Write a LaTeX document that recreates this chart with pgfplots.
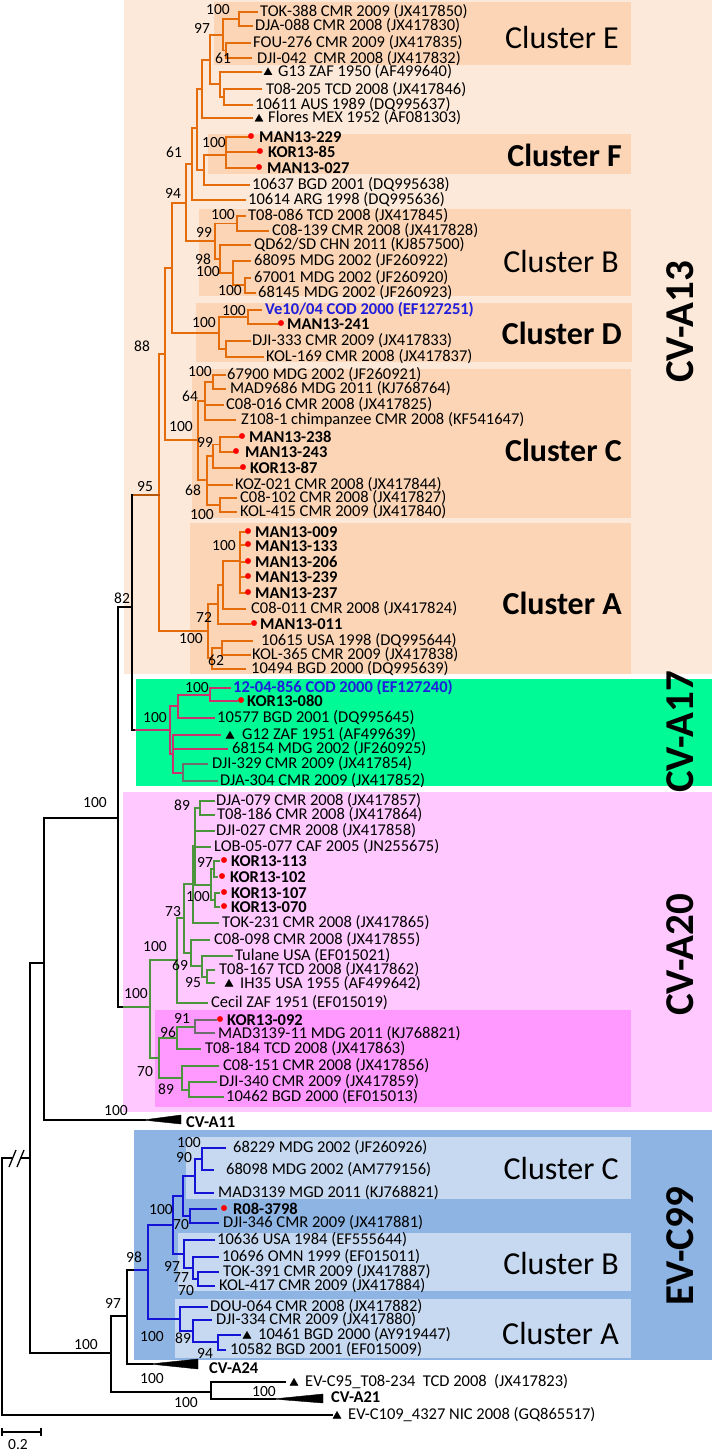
\documentclass[border=0pt]{standalone}
\usepackage{pgfplots}
\pgfplotsset{compat=1.18}
\usepackage{fontspec}
\setmainfont{Carlito}
\definecolor{orL}{RGB}{228,108,10}
\definecolor{mgL}{RGB}{200,50,110}
\definecolor{gyL}{RGB}{110,110,110}
\definecolor{grL}{RGB}{75,150,60}
\definecolor{blL}{RGB}{20,20,215}
\definecolor{blT}{RGB}{30,30,220}
\definecolor{bgA13}{RGB}{253,233,217}
\definecolor{bxA13}{RGB}{251,213,181}
\definecolor{bgA17}{RGB}{0,250,150}
\definecolor{bgA20}{RGB}{255,200,255}
\definecolor{bxA20}{RGB}{255,153,255}
\definecolor{bgC99}{RGB}{141,180,226}
\definecolor{bxC99}{RGB}{198,217,241}
\tikzset{
 or/.style={color=orL,line width=1.7pt,line cap=rect},
 mg/.style={color=mgL,line width=1.7pt,line cap=rect},
 gy/.style={color=gyL,line width=1.7pt,line cap=rect},
 gr/.style={color=grL,line width=1.7pt,line cap=rect},
 bl/.style={color=blL,line width=1.7pt,line cap=rect},
 bk/.style={color=black,line width=1.7pt,line cap=rect},
}
\newcommand{\HL}[4]{\addplot[#1] coordinates {(#3,#2) (#4,#2)};}
\newcommand{\VL}[4]{\addplot[#1] coordinates {(#2,#3) (#2,#4)};}
\newcommand{\BOX}[5]{\addplot[fill=#1,draw=none] coordinates {(#2,#3) (#4,#3) (#4,#5) (#2,#5)} -- cycle;}
\newcommand{\lfont}{\fontsize{16.5}{18}\selectfont}
\newcommand{\bfont}{\fontsize{15.5}{17}\selectfont}
\newcommand{\LF}[3]{\node[anchor=west,inner sep=0pt,font=\lfont] at (axis cs:#1,#2) {#3};}
\newcommand{\LB}[3]{\node[anchor=west,inner sep=0pt,font=\lfont\bfseries] at (axis cs:#1,#2) {#3};}
\newcommand{\BS}[3]{\node[inner sep=0pt,font=\bfont] at (axis cs:#1,#2) {#3};}
\newcommand{\CL}[2]{\node[anchor=east,inner sep=0pt,font=\fontsize{32}{34}\selectfont] at (axis cs:619,#1) {#2};}
\newcommand{\CLB}[2]{\node[anchor=east,inner sep=0pt,font=\fontsize{32}{34}\selectfont\bfseries] at (axis cs:622,#1) {#2};}
\newcommand{\GR}[2]{\node[rotate=90,inner sep=0pt,font=\fontsize{41}{43}\selectfont\bfseries] at (axis cs:680,#1) {#2};}
\begin{document}
\begin{tikzpicture}
\begin{axis}[width=712pt,height=1455pt,scale only axis,xmin=0,xmax=712,ymin=0,ymax=1455,
 y dir=reverse,hide axis,clip=false]
% full-frame (invisible) so the picture spans the whole axis
\addplot[draw=none,fill=white] coordinates {(0,0) (712,0) (712,1455) (0,1455)} -- cycle;
% backgrounds
\BOX{bgA13}{124}{0}{712}{674}
\BOX{bxA13}{214}{2}{631}{65}
\BOX{bxA13}{208}{134}{631}{174}
\BOX{bxA13}{199}{209}{631}{296}
\BOX{bxA13}{196}{303}{632}{362}
\BOX{bxA13}{192}{369}{631}{518}
\BOX{bxA13}{190}{523}{631}{674}
\BOX{bgA17}{136}{679}{712}{786}
\BOX{bgA20}{123}{792}{712}{1112}
\BOX{bxA20}{155}{1010}{631}{1107}
\BOX{bgC99}{134}{1130}{712}{1360}
\BOX{bxC99}{186}{1137}{631}{1199}
\BOX{bxC99}{178}{1233}{631}{1291}
\BOX{bxC99}{175}{1299}{631}{1358}
% ---------- CV-A13 (orange)
\VL{or}{239}{11.7}{26} \HL{or}{11.7}{239}{257} \HL{or}{26}{239}{252}
\VL{or}{226}{42.7}{58.3} \HL{or}{42.7}{226}{250} \HL{or}{58.3}{226}{251}
\VL{or}{223}{19}{50.5} \HL{or}{19}{223}{239} \HL{or}{50.5}{223}{226}
\VL{or}{224}{89.3}{105} \HL{or}{89.3}{224}{261} \HL{or}{105}{224}{252}
\VL{or}{220}{71.7}{97} \HL{or}{71.7}{220}{261} \HL{or}{97}{220}{224}
\VL{or}{210}{35}{84} \HL{or}{35}{210}{223} \HL{or}{84}{210}{220}
\VL{or}{202}{60}{118} \HL{or}{60}{202}{210} \HL{or}{118}{202}{252}
\VL{or}{226}{137}{168} \HL{or}{137}{226}{248} \HL{or}{152}{226}{257} \HL{or}{168}{226}{255}
\VL{or}{204}{155}{185} \HL{or}{155}{204}{226} \HL{or}{185}{204}{249}
\VL{or}{197}{89}{170} \HL{or}{89}{197}{202} \HL{or}{170}{197}{204}
\VL{or}{192}{128}{200} \HL{or}{128}{192}{197} \HL{or}{200}{192}{245}
\VL{or}{237}{216}{231} \HL{or}{216}{237}{245} \HL{or}{231}{237}{268}
\VL{or}{245}{278}{293} \HL{or}{278}{245}{250} \HL{or}{293}{245}{255}
\VL{or}{233}{261}{285} \HL{or}{261}{233}{250} \HL{or}{285}{233}{245}
\VL{or}{220}{245}{273} \HL{or}{245}{220}{250} \HL{or}{273}{220}{233}
\VL{or}{215}{223.5}{259} \HL{or}{223.5}{215}{237} \HL{or}{259}{215}{220}
\VL{or}{186}{164}{241} \HL{or}{164}{186}{192} \HL{or}{241}{186}{215}
\VL{or}{248}{310}{324} \HL{or}{310}{248}{261} \HL{or}{324}{248}{278}
\VL{or}{226}{341}{357} \HL{or}{341}{226}{250} \HL{or}{357}{226}{263}
\VL{or}{219}{317}{349} \HL{or}{317}{219}{248} \HL{or}{349}{219}{226}
\VL{or}{172}{203}{333} \HL{or}{203}{172}{186} \HL{or}{333}{172}{219}
\VL{or}{213}{375}{389} \HL{or}{375}{213}{225} \HL{or}{389}{213}{225}
\VL{or}{205}{382}{420} \HL{or}{382}{205}{213} \HL{or}{405}{205}{223} \HL{or}{420}{205}{235}
\VL{or}{220}{437}{452} \HL{or}{437}{220}{239} \HL{or}{452}{220}{234}
\VL{or}{213}{444.5}{468} \HL{or}{444.5}{213}{220} \HL{or}{468}{213}{240}
\VL{or}{220}{498}{512} \HL{or}{498}{220}{236} \HL{or}{512}{220}{236}
\VL{or}{207}{456}{505} \HL{or}{456}{207}{213} \HL{or}{485}{207}{232} \HL{or}{505}{207}{220}
\VL{or}{198}{401}{480} \HL{or}{401}{198}{205} \HL{or}{480}{198}{207}
\VL{or}{165}{268}{440} \HL{or}{268}{165}{172} \HL{or}{440}{165}{198}
\VL{or}{240}{532}{593} \HL{or}{532}{240}{245} \HL{or}{545}{240}{245} \HL{or}{562}{240}{245} \HL{or}{577}{240}{245} \HL{or}{593}{240}{245}
\VL{or}{223}{561}{609} \HL{or}{561}{223}{240} \HL{or}{609}{223}{245}
\VL{or}{218}{585}{624} \HL{or}{585}{218}{223} \HL{or}{624}{218}{250}
\VL{or}{222}{641}{655} \HL{or}{641}{222}{252} \HL{or}{655}{222}{250}
\VL{or}{212}{648}{669} \HL{or}{648}{212}{222} \HL{or}{669}{212}{245}
\VL{or}{208}{604}{658} \HL{or}{604}{208}{218} \HL{or}{658}{208}{212}
\VL{or}{159}{354}{631} \HL{or}{354}{159}{165} \HL{or}{631}{159}{208}
\addplot[color=orL!80!black,line width=2.4pt,line cap=rect] coordinates {(132,495) (159,495)};
% ---------- CV-A17
\HL{bk}{730}{132}{136}
\HL{mg}{730}{136}{170}
\VL{mg}{170}{706}{754} \HL{mg}{706}{170}{178} \HL{mg}{754}{170}{173}
\VL{mg}{178}{695}{718} \HL{mg}{695}{178}{210} \HL{mg}{718}{178}{214}
\VL{mg}{210}{688}{701} \HL{mg}{688}{210}{230} \HL{mg}{701}{210}{237}
\VL{mg}{173}{735}{773} \HL{mg}{735}{173}{220} \HL{mg}{749}{173}{227} \HL{mg}{773}{173}{183}
\VL{gy}{183}{764}{781} \HL{gy}{764}{183}{207} \HL{gy}{781}{183}{217}
% ---------- backbone (black)
\VL{bk}{132}{495}{730} \HL{bk}{607}{118}{132}
\VL{bk}{118}{607}{1007} \HL{bk}{818}{44}{118}
\HL{bk}{1007}{118}{124}
\VL{bk}{44}{818}{1120} \HL{bk}{1120}{44}{145}
\HL{bk}{963}{30}{44}
\VL{bk}{30}{963}{1353} \HL{bk}{1353}{30}{111}
\VL{bk}{111}{1316}{1392} \HL{bk}{1316}{111}{127}
\VL{bk}{127}{1270}{1364} \HL{bk}{1270}{127}{135} \HL{bk}{1364}{127}{152}
\HL{bk}{1392}{111}{211}
\VL{bk}{211}{1382}{1399} \HL{bk}{1382}{211}{285} \HL{bk}{1399}{211}{275}
\VL{bk}{2}{1158}{1415} \HL{bk}{1158}{2}{11} \HL{bk}{1158}{21}{30} \HL{bk}{1415}{2}{332}
\addplot[black,line width=1.3pt] coordinates {(9,1167) (16,1150)};
\addplot[black,line width=1.3pt] coordinates {(17,1167) (24,1150)};
% collapsed clades
\addplot[fill=black,draw=black,line width=0.4pt] coordinates {(143,1120) (181,1115) (181,1124)} -- cycle;
\addplot[fill=black,draw=black,line width=0.4pt] coordinates {(150,1364) (198,1359) (198,1369)} -- cycle;
\addplot[fill=black,draw=black,line width=0.4pt] coordinates {(273,1399) (323,1394) (323,1403)} -- cycle;
% scale bar
\addplot[black,line width=1.2pt] coordinates {(2,1432) (41,1432)};
\addplot[black,line width=1.2pt] coordinates {(2,1428) (2,1436)};
\addplot[black,line width=1.2pt] coordinates {(41,1428) (41,1436)};
% ---------- CV-A20 (green)
\HL{gr}{1007}{124}{150}
\VL{gr}{150}{960}{1058} \HL{gr}{960}{150}{177} \HL{gr}{1058}{150}{159}
\VL{gr}{177}{918}{1003} \HL{gr}{918}{177}{184} \HL{gr}{1003}{177}{207}
\VL{gr}{184}{884}{953} \HL{gr}{884}{184}{193} \HL{gr}{953}{184}{191}
\VL{gr}{193}{846}{923} \HL{gr}{846}{193}{195} \HL{gr}{923}{193}{218}
\VL{gr}{195}{808}{885} \HL{gr}{808}{195}{200} \HL{gr}{831}{195}{214} \HL{gr}{847}{195}{210} \HL{gr}{885}{195}{211}
\VL{gr}{200}{801}{815} \HL{gr}{801}{200}{214} \HL{gr}{815}{200}{214}
\VL{gr}{211}{869}{900} \HL{gr}{869}{211}{214} \HL{gr}{900}{211}{215}
\VL{gr}{214}{861}{877} \HL{gr}{861}{214}{219} \HL{gr}{877}{214}{217}
\VL{gr}{215}{893}{907} \HL{gr}{893}{215}{219} \HL{gr}{907}{215}{219}
\VL{gr}{191}{940}{966} \HL{gr}{940}{191}{209} \HL{gr}{966}{191}{202}
\VL{gr}{202}{956}{977} \HL{gr}{956}{202}{232} \HL{gr}{977}{202}{207}
\VL{gr}{207}{970}{983} \HL{gr}{970}{207}{214} \HL{gr}{983}{207}{214}
\VL{gr}{159}{1038}{1078} \HL{gr}{1038}{159}{177} \HL{gr}{1078}{159}{182}
\VL{gr}{177}{1027}{1049} \HL{gr}{1027}{177}{195} \HL{gr}{1049}{177}{200}
\VL{gy}{195}{1020}{1033} \HL{gy}{1020}{195}{216} \HL{gy}{1033}{195}{214}
\VL{gr}{182}{1066}{1090} \HL{gr}{1066}{182}{218} \HL{gr}{1090}{182}{189}
\VL{gr}{189}{1082}{1097} \HL{gr}{1082}{189}{216} \HL{gr}{1097}{189}{223}
% ---------- EV-C99 (blue)
\HL{bl}{1270}{135}{148}
\VL{bl}{148}{1225}{1319} \HL{bl}{1225}{148}{173} \HL{bl}{1319}{148}{180}
\VL{bl}{173}{1196}{1254} \HL{bl}{1196}{173}{183} \HL{bl}{1254}{173}{184}
\VL{bl}{183}{1176}{1216} \HL{bl}{1176}{183}{195} \HL{bl}{1216}{183}{190}
\VL{bl}{195}{1159}{1193} \HL{bl}{1159}{195}{202} \HL{bl}{1193}{195}{213}
\VL{bl}{202}{1148}{1170} \HL{bl}{1148}{202}{225} \HL{bl}{1170}{202}{213}
\VL{bl}{190}{1209}{1223} \HL{bl}{1209}{190}{216} \HL{bl}{1223}{190}{218}
\VL{bl}{184}{1240}{1268} \HL{bl}{1240}{184}{214} \HL{bl}{1268}{184}{193}
\VL{bl}{193}{1257}{1279} \HL{bl}{1257}{193}{218} \HL{bl}{1279}{193}{198}
\VL{bl}{198}{1272}{1286} \HL{bl}{1272}{198}{218} \HL{bl}{1286}{198}{214}
\VL{bl}{180}{1307}{1331} \HL{bl}{1307}{180}{207} \HL{bl}{1331}{180}{193}
\VL{bl}{193}{1320}{1342} \HL{bl}{1320}{193}{211} \HL{bl}{1342}{193}{218}
\VL{bl}{218}{1335}{1350} \HL{bl}{1335}{218}{240} \HL{bl}{1350}{218}{225}
% ---------- markers
\addplot[only marks,mark=*,mark size=2.7pt,color=red] coordinates {
(251,136) (260,151) (259,167) (281,323) (242,436) (236,451) (243,467)
(248,531) (248,544) (248,561) (248,576) (248,592) (254,623)
(241,700) (224,860) (222,876) (224,892) (224,906) (220,1019) (224,1208)};
\addplot[only marks,mark=triangle*,mark size=4.6pt,color=black] coordinates {
(268,72.5) (259,119) (230,736) (229,984) (247,1336) (294,1383) (337,1416)};
% ---------- leaf labels
\LF{260}{11.7}{TOK-388 CMR 2009 (JX417850)}
\LF{255}{26}{DJA-088 CMR 2008 (JX417830)}
\LF{253}{42.7}{FOU-276 CMR 2009 (JX417835)}
\LF{257}{58.3}{DJI-042\ \ CMR 2008 (JX417832)}
\LF{278}{71.7}{G13 ZAF 1950 (AF499640)}
\LF{266}{89.3}{T08-205 TCD 2008 (JX417846)}
\LF{255}{105}{10611 AUS 1989 (DQ995637)}
\LF{268}{118}{Flores MEX 1952 (AF081303)}
\LB{259}{137}{MAN13-229}
\LB{268}{152}{KOR13-85}
\LB{267}{168}{MAN13-027}
\LF{252}{185}{10637 BGD 2001 (DQ995638)}
\LF{248}{200}{10614 ARG 1998 (DQ995636)}
\LF{248}{216}{T08-086 TCD 2008 (JX417845)}
\LF{272}{231}{C08-139 CMR 2008 (JX417828)}
\LF{254}{245}{QD62/SD CHN 2011 (KJ857500)}
\LF{254}{261}{68095 MDG 2002 (JF260922)}
\LF{254}{278}{67001 MDG 2002 (JF260920)}
\LF{258}{293}{68145 MDG 2002 (JF260923)}
\node[anchor=west,inner sep=0pt,font=\lfont\bfseries,text=blT] at (axis cs:265,310) {Ve10/04 COD 2000 (EF127251)};
\LB{287}{324}{MAN13-241}
\LF{252}{341}{DJI-333 CMR 2009 (JX417833)}
\LF{266}{357}{KOL-169 CMR 2008 (JX417837)}
\LF{227}{375}{67900 MDG 2002 (JF260921)}
\LF{230}{389}{MAD9686 MDG 2011 (KJ768764)}
\LF{226}{405}{C08-016 CMR 2008 (JX417825)}
\LF{241}{420}{Z108-1 chimpanzee CMR 2008 (KF541647)}
\LB{249}{437}{MAN13-238}
\LB{245}{452}{MAN13-243}
\LB{250}{468}{KOR13-87}
\LF{235}{485}{KOZ-021 CMR 2008 (JX417844)}
\LF{240}{498}{C08-102 CMR 2008 (JX417827)}
\LF{240}{512}{KOL-415 CMR 2009 (JX417840)}
\LB{255}{532}{MAN13-009}
\LB{255}{546}{MAN13-133}
\LB{255}{562}{MAN13-206}
\LB{255}{577}{MAN13-239}
\LB{255}{593}{MAN13-237}
\LF{251}{609}{C08-011 CMR 2008 (JX417824)}
\LB{260}{624}{MAN13-011}
\LF{261}{641}{10615 USA 1998 (DQ995644)}
\LF{252}{655}{KOL-365 CMR 2009 (JX417838)}
\LF{251}{669}{10494 BGD 2000 (DQ995639)}
\node[anchor=west,inner sep=0pt,font=\lfont\bfseries,text=blT] at (axis cs:233,688) {12-04-856 COD 2000 (EF127240)};
\LB{247}{701}{KOR13-080}
\LF{217}{718}{10577 BGD 2001 (DQ995645)}
\LF{242}{735}{G12 ZAF 1951 (AF499639)}
\LF{232}{749}{68154 MDG 2002 (JF260925)}
\LF{212}{764}{DJI-329 CMR 2009 (JX417854)}
\LF{220}{781}{DJA-304 CMR 2009 (JX417852)}
\LF{216}{801}{DJA-079 CMR 2008 (JX417857)}
\LF{217}{815}{T08-186 CMR 2008 (JX417864)}
\LF{216}{831}{DJI-027 CMR 2008 (JX417858)}
\LF{214}{847}{LOB-05-077 CAF 2005 (JN255675)}
\LB{231}{861}{KOR13-113}
\LB{230}{877}{KOR13-102}
\LB{231}{893}{KOR13-107}
\LB{231}{907}{KOR13-070}
\LF{222}{923}{TOK-231 CMR 2008 (JX417865)}
\LF{214}{940}{C08-098 CMR 2008 (JX417855)}
\LF{235}{956}{Tulane USA (EF015021)}
\LF{219}{970}{T08-167 TCD 2008 (JX417862)}
\LF{240}{984}{IH35 USA 1955 (AF499642)}
\LF{211}{1003}{Cecil ZAF 1951 (EF015019)}
\LB{227}{1020}{KOR13-092}
\LF{218}{1034}{MAD3139-11 MDG 2011 (KJ768821)}
\LF{205}{1049}{T08-184 TCD 2008 (JX417863)}
\LF{223}{1066}{C08-151 CMR 2008 (JX417856)}
\LF{219}{1082}{DJI-340 CMR 2009 (JX417859)}
\LF{226}{1097}{10462 BGD 2000 (EF015013)}
\LB{186}{1122}{CV-A11}
\LF{233}{1148}{68229 MDG 2002 (JF260926)}
\LF{226}{1170}{68098 MDG 2002 (AM779156)}
\LF{218}{1193}{MAD3139 MGD 2011 (KJ768821)}
\LB{233}{1209}{R08-3798}
\LF{223}{1223}{DJI-346 CMR 2009 (JX417881)}
\LF{217}{1240}{10636 USA 1984 (EF555644)}
\LF{222}{1257}{10696 OMN 1999 (EF015011)}
\LF{223}{1272}{TOK-391 CMR 2009 (JX417887)}
\LF{219}{1286}{KOL-417 CMR 2009 (JX417884)}
\LF{210}{1307}{DOU-064 CMR 2008 (JX417882)}
\LF{216}{1320}{DJI-334 CMR 2009 (JX417880)}
\LF{258}{1335}{10461 BGD 2000 (AY919447)}
\LF{230}{1350}{10582 BGD 2001 (EF015009)}
\LB{209}{1368}{CV-A24}
\LF{305}{1382}{EV-C95\_T08-234\ \ TCD 2008\ \ (JX417823)}
\LB{331}{1397}{CV-A21}
\LF{348}{1415}{EV-C109\_4327 NIC 2008 (GQ865517)}
\node[inner sep=0pt,font=\bfont] at (axis cs:18,1445) {0.2};
% ---------- bootstrap values
\BS{218}{10}{100} \BS{202}{28}{97} \BS{223}{58}{61} \BS{214}{143}{100}
\BS{174}{152}{61} \BS{173}{193}{94} \BS{223}{215}{100} \BS{204}{232}{99}
\BS{203}{259}{98} \BS{208}{272}{100} \BS{230}{291}{100} \BS{234}{311}{100}
\BS{204}{323}{100} \BS{142}{346}{88} \BS{200}{372}{100} \BS{190}{396}{64}
\BS{181}{427}{100} \BS{205}{442}{99} \BS{145}{487}{95} \BS{193}{490}{68}
\BS{202}{515}{100} \BS{224}{546}{100} \BS{122}{598}{82} \BS{204}{617}{72}
\BS{191}{639}{100} \BS{216}{660}{62}
\BS{197}{688}{100} \BS{155}{718}{100}
\BS{95}{803}{100}
\BS{182}{805}{89} \BS{205}{862}{97} \BS{198}{897}{100} \BS{173}{912}{73}
\BS{155}{947}{100} \BS{180}{965}{69} \BS{193}{983}{95} \BS{136}{994}{100}
\BS{182}{1018}{91} \BS{168}{1032}{96} \BS{145}{1072}{70} \BS{166}{1089}{89}
\BS{116}{1111}{100}
\BS{189}{1143}{100} \BS{184}{1158}{90} \BS{161}{1210}{100} \BS{181}{1225}{70}
\BS{172}{1266}{97} \BS{134}{1257}{98} \BS{181}{1278}{77} \BS{186}{1291}{70}
\BS{113}{1303}{97} \BS{152}{1337}{100} \BS{183}{1338}{89} \BS{205}{1353}{94}
\BS{86}{1345}{100} \BS{152}{1379}{100} \BS{264}{1392}{100} \BS{186}{1403}{100}
% ---------- cluster labels
\CL{38}{Cluster E}
\CLB{155}{Cluster F}
\CL{262}{Cluster B}
\CLB{333}{Cluster D}
\CLB{450}{Cluster C}
\CLB{603}{Cluster A}
\CL{1168}{Cluster C}
\CL{1263}{Cluster B}
\CL{1333}{Cluster A}
% ---------- group labels
\GR{322}{CV-A13}
\GR{732}{CV-A17}
\GR{955}{CV-A20}
\GR{1246}{EV-C99}
\end{axis}
\end{tikzpicture}
\end{document}
